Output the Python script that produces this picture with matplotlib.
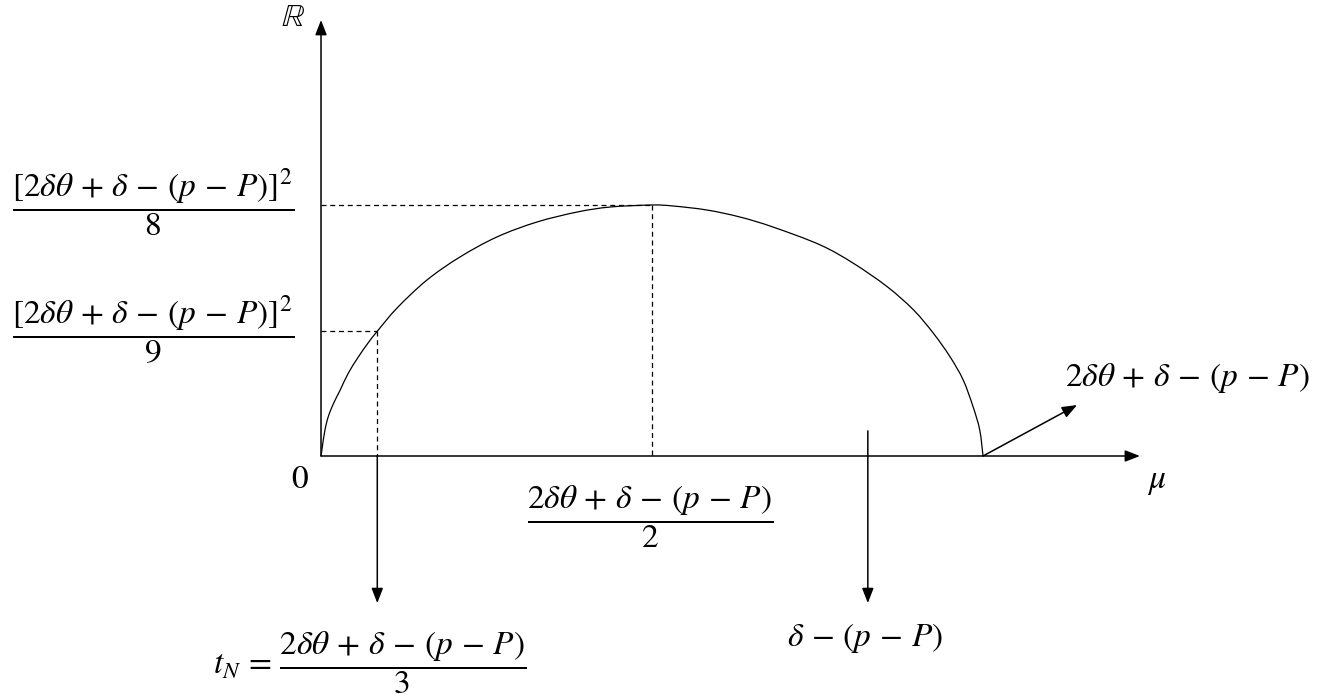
import numpy as np
import matplotlib.pyplot as plt
from matplotlib.path import Path
from matplotlib.patches import PathPatch

plt.rcParams['mathtext.fontset'] = 'stix'
plt.rcParams['font.family'] = ['STIXGeneral', 'DejaVu Serif']

# curve (mu scaled so the right root is 1, R scaled so the peak is 1)
curve_mu = [0.0, 0.002, 0.006, 0.011, 0.019, 0.029, 0.041, 0.056, 0.071, 0.085,
            0.115, 0.160, 0.210, 0.266, 0.326, 0.387, 0.437, 0.5, 0.532, 0.583,
            0.633, 0.683, 0.754, 0.804, 0.855, 0.895, 0.925, 0.950, 0.970, 0.985,
            0.995, 1.0]
curve_R = [0.0, 0.037, 0.104, 0.157, 0.210, 0.263, 0.329, 0.393, 0.450, 0.497,
           0.590, 0.701, 0.793, 0.873, 0.932, 0.972, 0.992, 1.0, 0.996, 0.980,
           0.952, 0.912, 0.841, 0.768, 0.675, 0.582, 0.489, 0.396, 0.303, 0.196,
           0.104, 0.0]

mu_peak, R_peak = 0.5, 1.0
mu_tn, R_tn = 0.085, 0.497
mu_dpp = 0.826
mu_end = 1.0

A = r'2\delta\theta\,+\,\delta\,-\,(p\,-\,P)'

fig = plt.figure(figsize=(13.28, 7.0), dpi=100)
ax = fig.add_axes([0, 0, 1, 1])
ax.set_xlim(-0.4849, 1.5211)
ax.set_ylim(-0.9721, 1.8167)
ax.axis('off')

head = dict(arrowstyle='-|>,head_length=0.9,head_width=0.35', color='black', lw=1.1,
            shrinkA=0, shrinkB=0)

# axes
ax.annotate('', xy=(1.237, 0), xytext=(0, 0), arrowprops=head)
ax.annotate('', xy=(0, 1.737), xytext=(0, 0), arrowprops=head)

# curve: smooth path through the read points (Catmull-Rom as cubic Bezier)
pts = np.column_stack([curve_mu, curve_R])
ext = np.vstack([pts[0], pts, pts[-1]])
verts = [pts[0]]
codes = [Path.MOVETO]
for i in range(len(pts) - 1):
    p0, p1, p2, p3 = ext[i], ext[i + 1], ext[i + 2], ext[i + 3]
    verts += [p1 + (p2 - p0) / 6, p2 - (p3 - p1) / 6, p2]
    codes += [Path.CURVE4] * 3
ax.add_patch(PathPatch(Path(verts, codes), fill=False, edgecolor='black', lw=0.9))

# dashed guides
dash = dict(color='black', lw=0.9, ls=(0, (4, 3)))
ax.plot([0, mu_peak], [R_peak, R_peak], **dash)
ax.plot([mu_peak, mu_peak], [R_peak, 0], **dash)
ax.plot([0, mu_tn], [R_tn, R_tn], **dash)
ax.plot([mu_tn, mu_tn], [R_tn, 0], **dash)

# pointer arrows
ax.annotate('', xy=(mu_tn, -0.586), xytext=(mu_tn, 0), arrowprops=head)
ax.annotate('', xy=(mu_dpp, -0.586), xytext=(mu_dpp, 0.1), arrowprops=head)
ax.annotate('', xy=(1.142, 0.203), xytext=(mu_end, 0), arrowprops=head)

fs = 24
ax.text(-0.042, 1.745, r'$\mathbb{R}$', fontsize=23, ha='center', va='center')
ax.text(-0.032, -0.096, r'$0$', fontsize=fs, ha='center', va='center')
ax.text(1.262, -0.104, r'$\mu$', fontsize=fs, ha='center', va='center')

ax.text(-0.254, 1.008, r'$\dfrac{[' + A + r']^2}{8}$', fontsize=fs, ha='center', va='center')
ax.text(-0.254, 0.502, r'$\dfrac{[' + A + r']^2}{9}$', fontsize=fs, ha='center', va='center')
ax.text(0.497, -0.243, r'$\dfrac{' + A + r'}{2}$', fontsize=fs, ha='center', va='center')
ax.text(0.074, -0.825, r'$t_N\,=\,\dfrac{' + A + r'}{3}$', fontsize=fs, ha='center', va='center')
ax.text(0.822, -0.725, r'$\delta\,-\,(p\,-\,P)$', fontsize=fs, ha='center', va='center')
ax.text(1.124, 0.311, r'$' + A + r'$', fontsize=fs, ha='left', va='center')

fig.savefig('out.png', dpi=100, facecolor='white')
